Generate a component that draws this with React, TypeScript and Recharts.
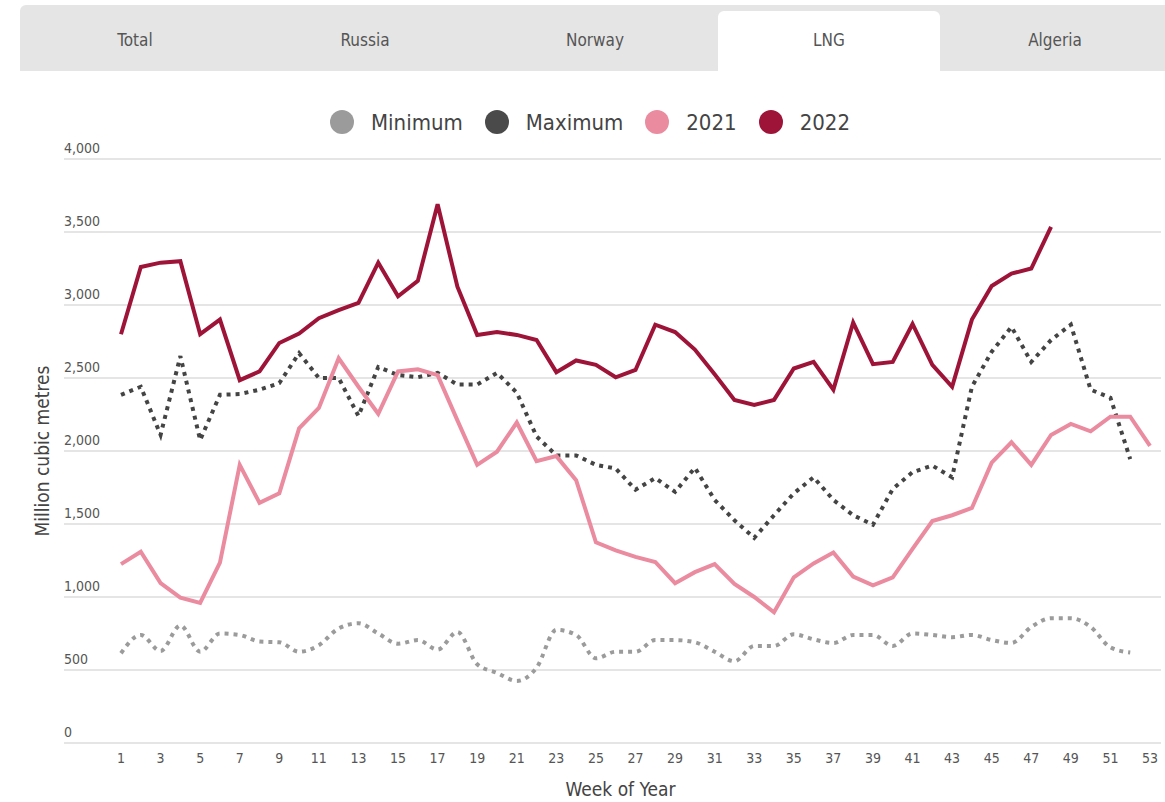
import { LineChart, Line, XAxis, YAxis, CartesianGrid } from 'recharts'

const weeks = [
  1, 2, 3, 4, 5, 6, 7, 8, 9, 10, 11, 12, 13, 14, 15, 16, 17, 18, 19, 20, 21, 22, 23, 24, 25, 26,
  27, 28, 29, 30, 31, 32, 33, 34, 35, 36, 37, 38, 39, 40, 41, 42, 43, 44, 45, 46, 47, 48, 49, 50,
  51, 52, 53,
]

const minimum = [
  615, 740, 630, 805, 625, 750, 740, 695, 690, 625, 670, 785, 820, 750, 680, 705, 640, 760, 540, 480,
  425, 515, 775, 740, 580, 625, 625, 705, 705, 690, 625, 560, 665, 665, 745, 710, 685, 740, 740, 665,
  750, 740, 725, 740, 705, 685, 795, 855, 855, 795, 655, 620, null,
]

const maximum = [
  2385, 2440, 2110, 2650, 2075, 2385, 2390, 2420, 2465, 2670, 2500, 2500, 2240, 2575, 2520, 2505,
  2535, 2455, 2455, 2535, 2400, 2100, 1970, 1970, 1905, 1880, 1735, 1815, 1720, 1885, 1665, 1525,
  1405, 1560, 1710, 1820, 1665, 1560, 1495, 1740, 1855, 1900, 1820, 2440, 2680, 2850, 2610, 2760,
  2865, 2420, 2365, 1945, null,
]

const y2021 = [
  1225, 1310, 1095, 995, 960, 1235, 1905, 1645, 1710, 2155, 2295, 2635, 2440, 2255, 2545, 2560, 2520,
  2210, 1905, 1995, 2195, 1930, 1965, 1800, 1375, 1320, 1275, 1240, 1095, 1170, 1225, 1090, 1000, 895,
  1135, 1230, 1305, 1140, 1080, 1135, 1330, 1520, 1560, 1610, 1920, 2060, 1905, 2110, 2185, 2135,
  2235, 2235, 2035,
]

const y2022 = [
  2800, 3260, 3290, 3300, 2800, 2900, 2485, 2545, 2740, 2805, 2910, 2965, 3015, 3290, 3060, 3165,
  3690, 3125, 2795, 2815, 2795, 2760, 2540, 2620, 2590, 2505, 2555, 2865, 2815, 2695, 2525, 2350,
  2315, 2350, 2565, 2610, 2420, 2880, 2595, 2610, 2870, 2590, 2440, 2900, 3130, 3215, 3250, 3535,
  null, null, null, null, null,
]

const xTicks = [1, 3, 5, 7, 9, 11, 13, 15, 17, 19, 21, 23, 25, 27, 29, 31, 33, 35, 37, 39, 41, 43, 45, 47, 49, 51, 53]
const yTicks = [0, 500, 1000, 1500, 2000, 2500, 3000, 3500, 4000]

const tabs = ['Total', 'Russia', 'Norway', 'LNG', 'Algeria']
const activeTab = 'LNG'

const legendItems = [
  { name: 'Minimum', color: '#9b9b9b' },
  { name: 'Maximum', color: '#4a4a4a' },
  { name: '2021', color: '#ea8ba0' },
  { name: '2022', color: '#9e1438' },
]

const data = weeks.map((week, i) => ({
  week,
  min: minimum[i],
  max: maximum[i],
  y2021: y2021[i],
  y2022: y2022[i],
}))

const FONT = '"DejaVu Sans Condensed", "Liberation Sans Narrow", Roboto, sans-serif'

const renderYTick = (props: any) => {
  const { y, payload } = props
  return (
    <text x={64} y={y - 6} textAnchor="start" fill="#555" fontSize={14} fontFamily={FONT}>
      {Number(payload.value).toLocaleString('en-US')}
    </text>
  )
}

const renderYLabel = (props: any) => {
  const vb = props.viewBox || { y: 159, height: 584 }
  const cx = 43
  const cy = vb.y + vb.height / 2
  return (
    <text
      x={cx}
      y={cy}
      transform={`rotate(-90 ${cx} ${cy})`}
      textAnchor="middle"
      dominantBaseline="middle"
      fill="#444"
      fontSize={19}
      fontFamily={FONT}
    >
      Million cubic metres
    </text>
  )
}

export default function App() {
  return (
    <div style={{ position: 'absolute', left: 0, top: 0, width: 1165, height: 802, background: '#fff', fontFamily: FONT }}>
      <div
        style={{
          position: 'absolute',
          left: 20,
          top: 5,
          width: 1145,
          height: 66,
          background: '#e5e5e5',
          borderTopLeftRadius: 6,
        }}
      />
      {tabs.map((t, i) => {
        const active = t === activeTab
        return (
          <div
            key={t}
            style={{
              position: 'absolute',
              left: 20 + i * 230 + (active ? 8 : 0),
              top: 11,
              width: active ? 222 : 230,
              height: 60,
              background: active ? '#fff' : 'transparent',
              borderTopLeftRadius: 6,
              borderTopRightRadius: 6,
              display: 'flex',
              alignItems: 'center',
              justifyContent: 'center',
              fontSize: 17,
              color: '#555',
              boxSizing: 'border-box',
            }}
          >
            <span style={{ marginTop: -2 }}>{t}</span>
          </div>
        )
      })}

      <div
        style={{
          position: 'absolute',
          left: 0,
          top: 107,
          width: 1180,
          height: 30,
          display: 'flex',
          alignItems: 'center',
          justifyContent: 'center',
          gap: 22,
        }}
      >
        {legendItems.map((item) => (
          <div key={item.name} style={{ display: 'flex', alignItems: 'center', gap: 17 }}>
            <span style={{ width: 24, height: 24, borderRadius: 12, background: item.color, display: 'inline-block' }} />
            <span style={{ fontSize: 22, color: '#444' }}>{item.name}</span>
          </div>
        ))}
      </div>

      <div style={{ position: 'absolute', left: 0, top: 0 }}>
        <LineChart width={1165} height={802} data={data} margin={{ top: 159, right: 4, bottom: 9, left: 63 }}>
          <CartesianGrid vertical={false} stroke="#dcdcdc" strokeWidth={1.5} />
          <XAxis
            dataKey="week"
            type="number"
            domain={[1, 53]}
            ticks={xTicks}
            padding={{ left: 57, right: 11 }}
            axisLine={false}
            tickLine={false}
            tickSize={0}
            tickMargin={10}
            height={50}
            tick={{ fill: '#555', fontSize: 14, fontFamily: FONT }}
            label={{
              value: 'Week of Year',
              position: 'insideBottom',
              offset: -3,
              dx: 8,
              fill: '#444',
              fontSize: 19,
              fontFamily: FONT,
            }}
          />
          <YAxis
            domain={[0, 4000]}
            ticks={yTicks}
            width={1}
            axisLine={false}
            tickLine={false}
            tick={renderYTick}
            label={renderYLabel}
          />
          <Line
            dataKey="min"
            type="monotone"
            stroke="#9b9b9b"
            strokeWidth={4}
            strokeDasharray="4 5"
            dot={false}
            activeDot={false}
            isAnimationActive={false}
          />
          <Line
            dataKey="max"
            type="linear"
            stroke="#444"
            strokeWidth={4}
            strokeDasharray="4 5"
            dot={false}
            activeDot={false}
            isAnimationActive={false}
          />
          <Line
            dataKey="y2021"
            type="linear"
            stroke="#ea8ba0"
            strokeWidth={4}
            dot={false}
            activeDot={false}
            isAnimationActive={false}
          />
          <Line
            dataKey="y2022"
            type="linear"
            stroke="#9e1438"
            strokeWidth={4}
            dot={false}
            activeDot={false}
            isAnimationActive={false}
          />
        </LineChart>
      </div>
    </div>
  )
}
